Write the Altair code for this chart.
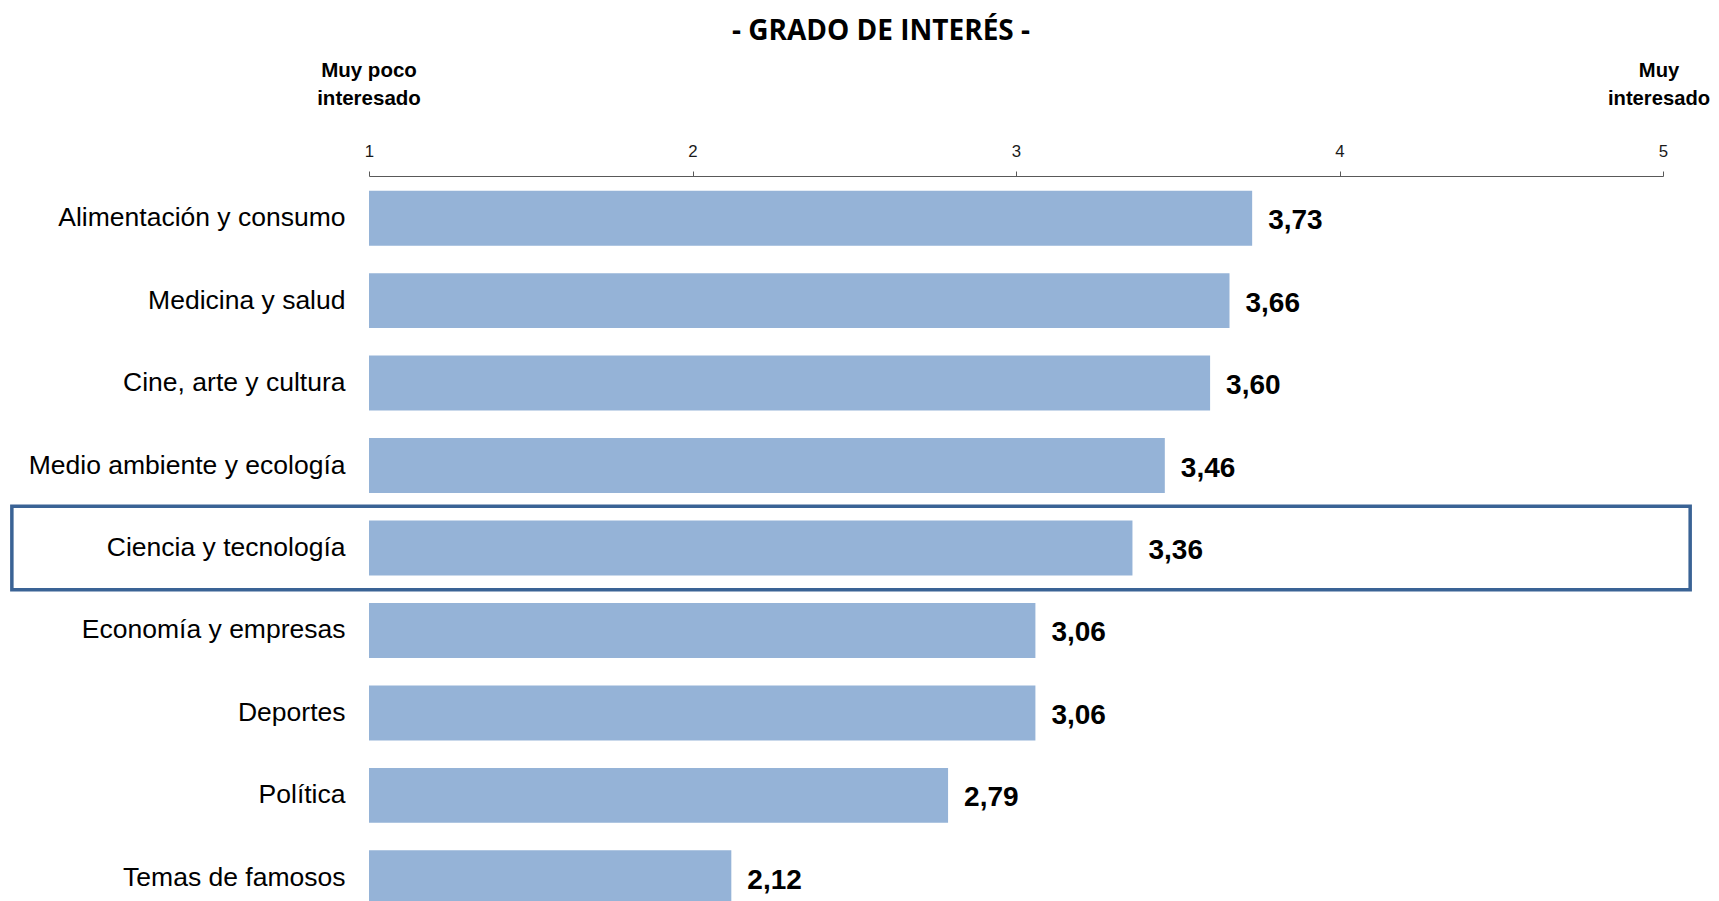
import altair as alt
import pandas as pd

# ---- data ----
categories = ["Alimentación y consumo", "Medicina y salud", "Cine, arte y cultura",
              "Medio ambiente y ecología", "Ciencia y tecnología", "Economía y empresas",
              "Deportes", "Política", "Temas de famosos"]
values = [3.73, 3.66, 3.60, 3.46, 3.36, 3.06, 3.06, 2.79, 2.12]
x_ticks = [1, 2, 3, 4, 5]
end_labels = ["Muy poco\ninteresado", "Muy\ninteresado"]
end_label_x = [1, 5]
highlight_cat = "Ciencia y tecnología"
title_text = "- GRADO DE INTERÉS -"

# ---- styling constants ----
BAR_COLOR = "#95B3D7"
BOX_COLOR = "#3A6395"
FONT = "Liberation Sans"
BOX_X = (-0.104, 5.084)  # horizontal extent of highlight frame, in scale units

df = pd.DataFrame({"tema": categories, "valor": values, "base": [1] * len(values)})
df["etiqueta"] = [f"{v:.2f}".replace(".", ",") for v in values]
box_df = pd.DataFrame({"tema": [highlight_cat], "x0": [BOX_X[0]], "x1": [BOX_X[1]]})
ends_df = pd.DataFrame({"x": end_label_x, "txt": end_labels})
title_df = pd.DataFrame({"t": [title_text]})

xscale = alt.Scale(domain=[1, 5], nice=False, zero=False)
yscale = alt.Scale(domain=categories, range=[0, 744], paddingInner=1 / 3, paddingOuter=0.178)

y_axis = alt.Axis(title=None, domain=False, ticks=False, labelFont=FONT, labelFontSize=26.5,
                  labelColor="#000000", labelPadding=24, labelLimit=600)
x_axis = alt.Axis(title=None, orient="top", values=x_ticks, format="d", grid=False,
                  domainColor="#595959", domainWidth=1, tickColor="#595959", tickSize=5,
                  labelFont=FONT, labelFontSize=16.8, labelColor="#1a1a1a", labelPadding=11,
                  labelFlush=False)

Y = alt.Y("tema:N", sort=categories, scale=yscale, axis=y_axis)


def X(field):
    return alt.X(field, scale=xscale, axis=x_axis)


box = alt.Chart(box_df).mark_bar(size=83.5, fill="white", fillOpacity=0, stroke=BOX_COLOR,
                                 strokeWidth=3.5).encode(
    y=Y,
    x=X("x0:Q"),
    x2="x1:Q",
)

bars = alt.Chart(df).mark_bar(color=BAR_COLOR).encode(
    y=Y,
    x=X("base:Q"),
    x2="valor:Q",
)

labels = alt.Chart(df).mark_text(align="left", baseline="alphabetic", dx=16, dy=11,
                                 font=FONT, fontSize=28, fontWeight="bold", color="#000000").encode(
    y=Y,
    x=X("valor:Q"),
    text="etiqueta:N",
)

ends_left = alt.Chart(ends_df.iloc[[0]]).mark_text(
    align="center", baseline="alphabetic", lineBreak="\n", lineHeight=28, font=FONT,
    fontSize=20.5, fontWeight="bold", color="#000000").encode(
    x=X("x:Q"),
    y=alt.value(-99),
    text="txt:N",
)

ends_right = alt.Chart(ends_df.iloc[[1]]).mark_text(
    align="center", baseline="alphabetic", lineBreak="\n", lineHeight=28, font=FONT,
    fontSize=20.2, fontWeight="bold", color="#000000", dx=-4).encode(
    x=X("x:Q"),
    y=alt.value(-99),
    text="txt:N",
)

title = alt.Chart(title_df).mark_text(align="center", baseline="alphabetic", font="Open Sans",
                                      fontSize=28, fontWeight="bold", color="#000000").encode(
    x=alt.value(512),
    y=alt.value(-136),
    text="t:N",
)

chart = alt.layer(bars, box, labels, ends_left, ends_right, title).properties(
    width=1294,
    height=725,
    padding={"left": 361, "top": 168, "right": 48, "bottom": 0},
    autosize=alt.AutoSizeParams(type="none"),
    background="white",
).configure_view(stroke=None)

chart.save("out.html", embed_options={"renderer": "svg", "actions": False})
